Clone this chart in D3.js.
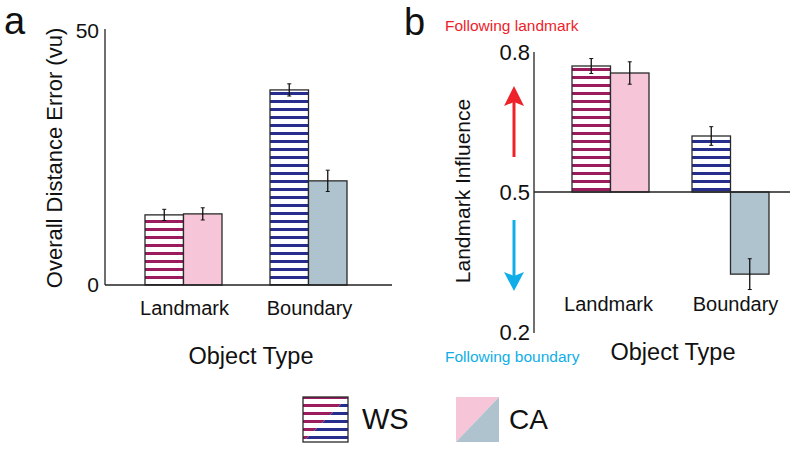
<!DOCTYPE html>
<html><head><meta charset="utf-8">
<script src="https://cdn.jsdelivr.net/npm/d3@7"></script>
<style>body{margin:0;background:#fff}svg{display:block;font-family:"Liberation Sans",Arial,Helvetica,sans-serif}</style>
</head><body><svg id="c" width="800" height="451"></svg>
<script>
// ---- data ----
const categories = ["Landmark", "Boundary"];
const groups = ["WS", "CA"];
// Panel a: overall distance error (vu)
const errorWS = [13.8, 38.4];
const errorWSse = [1.1, 1.2];
const errorCA = [14.0, 20.5];
const errorCAse = [1.2, 2.1];
const ticksA = [0, 50];
// Panel b: landmark influence
const influenceWS = [0.77, 0.62];
const influenceWSse = [0.016, 0.02];
const influenceCA = [0.755, 0.324];
const influenceCAse = [0.024, 0.033];
const ticksB = [0.2, 0.5, 0.8];
const baselineB = 0.5;

const colors = {
  magenta: "#9b1b5f", navy: "#262d8c", pink: "#f6c6d8", gray: "#afc3cf",
  red: "#ee2229", cyan: "#10aee8", stroke: "#2a2a2a"
};
const fillWS = ["url(#stripeM)", "url(#stripeB)"];
const fillCA = [colors.pink, colors.gray];

const svg = d3.select("#c");
const defs = svg.append("defs");
function stripe(id, col) {
  const p = defs.append("pattern").attr("id", id).attr("patternUnits", "userSpaceOnUse")
    .attr("width", 40).attr("height", 8);
  p.append("rect").attr("width", 40).attr("height", 8).attr("fill", "#fff");
  p.append("rect").attr("y", 4).attr("width", 40).attr("height", 3).attr("fill", col);
}
stripe("stripeM", colors.magenta);
stripe("stripeB", colors.navy);

function rows(vals, ses, fills) {
  return categories.map((c, i) => ({ cat: c, v: vals[i], se: ses[i], fill: fills[i] }));
}

// ---------- Panel a ----------
const xa = d3.scaleBand().domain(categories).range([121, 371]);
const sub = d3.scaleBand().domain(groups).range([-38.5, 38.5]);
const ya = d3.scaleLinear().domain([0, 50]).range([285, 31]);
const ga = svg.append("g");

function drawBars(g, x, y, base, data, grp) {
  const bw = sub.bandwidth();
  g.selectAll(null).data(data).enter().append("rect")
    .attr("x", d => x(d.cat) + x.bandwidth() / 2 + sub(grp))
    .attr("y", d => Math.min(y(d.v), y(base)))
    .attr("width", bw)
    .attr("height", d => Math.abs(y(d.v) - y(base)))
    .attr("fill", d => d.fill)
    .attr("stroke", colors.stroke).attr("stroke-width", 1.3);
  const eb = g.selectAll(null).data(data).enter().append("g")
    .attr("transform", d => `translate(${x(d.cat) + x.bandwidth() / 2 + sub(grp) + bw / 2},0)`);
  eb.append("line").attr("y1", d => y(d.v - d.se)).attr("y2", d => y(d.v + d.se))
    .attr("stroke", "#111").attr("stroke-width", 1.3);
  eb.append("line").attr("x1", -2).attr("x2", 2).attr("y1", d => y(d.v - d.se)).attr("y2", d => y(d.v - d.se))
    .attr("stroke", "#111").attr("stroke-width", 1);
  eb.append("line").attr("x1", -2).attr("x2", 2).attr("y1", d => y(d.v + d.se)).attr("y2", d => y(d.v + d.se))
    .attr("stroke", "#111").attr("stroke-width", 1);
}
drawBars(ga, xa, ya, 0, rows(errorWS, errorWSse, fillWS), "WS");
drawBars(ga, xa, ya, 0, rows(errorCA, errorCAse, fillCA), "CA");

const axA = ga.append("g").attr("transform", "translate(105,0)")
  .call(d3.axisLeft(ya).tickValues(ticksA).tickSize(0).tickPadding(6));
axA.select(".domain").attr("stroke", "#222").attr("stroke-width", 1.3).attr("d", `M0,${ya(50) - 2}V${ya(0)}`);
axA.selectAll("text").attr("font-size", 21).attr("fill", "#111").attr("font-family", null);
ga.append("line").attr("x1", 105).attr("x2", 392).attr("y1", ya(0)).attr("y2", ya(0))
  .attr("stroke", "#222").attr("stroke-width", 1.3);
ga.selectAll(null).data(categories).enter().append("text")
  .attr("x", d => xa(d) + xa.bandwidth() / 2 + 1).attr("y", 315)
  .attr("text-anchor", "middle").attr("font-size", 20).attr("fill", "#111").text(d => d);
ga.append("text").attr("x", 251).attr("y", 364).attr("text-anchor", "middle")
  .attr("font-size", 23.5).attr("fill", "#111").text("Object Type");
ga.append("text").attr("transform", "translate(62,158) rotate(-90)").attr("text-anchor", "middle")
  .attr("font-size", 22).attr("fill", "#111").text("Overall Distance Error (vu)");
svg.append("text").attr("x", 4).attr("y", 34).attr("font-size", 38).attr("fill", "#111").text("a");

// ---------- Panel b ----------
const xb = d3.scaleBand().domain(categories).range([550.5, 790.5]);
const yb = d3.scaleLinear().domain([0.2, 0.8]).range([332, 52]);
const gb = svg.append("g");
drawBars(gb, xb, yb, baselineB, rows(influenceWS, influenceWSse, fillWS), "WS");
drawBars(gb, xb, yb, baselineB, rows(influenceCA, influenceCAse, fillCA), "CA");
const axB = gb.append("g").attr("transform", "translate(534,0)")
  .call(d3.axisLeft(yb).tickValues(ticksB).tickFormat(d3.format(".1f")).tickSize(0).tickPadding(4));
axB.select(".domain").attr("stroke", "#222").attr("stroke-width", 1.3).attr("d", `M0,${yb(0.8)}V${yb(0.2) + 1}`);
axB.selectAll("text").attr("font-size", 22).attr("fill", "#111").attr("font-family", null);
gb.append("line").attr("x1", 534).attr("x2", 790).attr("y1", yb(baselineB)).attr("y2", yb(baselineB))
  .attr("stroke", "#222").attr("stroke-width", 1.3);
gb.selectAll(null).data(categories).enter().append("text")
  .attr("x", (d, i) => xb(d) + xb.bandwidth() / 2 + (i ? 5 : -2)).attr("y", 311)
  .attr("text-anchor", "middle").attr("font-size", 20).attr("fill", "#111").text(d => d);
gb.append("text").attr("x", 673).attr("y", 360).attr("text-anchor", "middle")
  .attr("font-size", 23.5).attr("fill", "#111").text("Object Type");
gb.append("text").attr("transform", "translate(470,191) rotate(-90)").attr("text-anchor", "middle")
  .attr("font-size", 21).attr("fill", "#111").text("Landmark Influence");
svg.append("text").attr("x", 404).attr("y", 35).attr("font-size", 38).attr("fill", "#111").text("b");
gb.append("text").attr("x", 445).attr("y", 31).attr("font-size", 15.5).attr("fill", colors.red).text("Following landmark");
gb.append("text").attr("x", 445).attr("y", 362).attr("font-size", 15.5).attr("fill", colors.cyan).text("Following boundary");
// arrows
const ax = 514;
gb.append("line").attr("x1", ax).attr("x2", ax).attr("y1", 157).attr("y2", 100).attr("stroke", colors.red).attr("stroke-width", 3);
gb.append("path").attr("d", `M${ax},86L${ax + 10},106L${ax},102L${ax - 10},106Z`).attr("fill", colors.red);
gb.append("line").attr("x1", ax).attr("x2", ax).attr("y1", 220).attr("y2", 278).attr("stroke", colors.cyan).attr("stroke-width", 3);
gb.append("path").attr("d", `M${ax},291L${ax + 10},272L${ax},276L${ax - 10},272Z`).attr("fill", colors.cyan);

// ---------- Legend ----------
const lg = svg.append("g");
const s = 45, wx = 303, cx = 456, ly = 397;
defs.append("clipPath").attr("id", "tl").append("path").attr("d", `M${wx},${ly}H${wx + s}L${wx},${ly + s}Z`);
defs.append("clipPath").attr("id", "br").append("path").attr("d", `M${wx + s},${ly}V${ly + s}H${wx}Z`);
lg.append("rect").attr("x", wx).attr("y", ly).attr("width", s).attr("height", s).attr("fill", "url(#stripeM)").attr("clip-path", "url(#tl)");
lg.append("rect").attr("x", wx).attr("y", ly).attr("width", s).attr("height", s).attr("fill", "url(#stripeB)").attr("clip-path", "url(#br)");
lg.append("rect").attr("x", wx).attr("y", ly).attr("width", s).attr("height", s).attr("fill", "none").attr("stroke", colors.stroke).attr("stroke-width", 1.3);
lg.append("path").attr("d", `M${cx},${ly}H${cx + 43}L${cx},${ly + s}Z`).attr("fill", colors.pink);
lg.append("path").attr("d", `M${cx + 43},${ly}V${ly + s}H${cx}Z`).attr("fill", colors.gray);
lg.append("text").attr("x", 362).attr("y", 429).attr("font-size", 29).attr("fill", "#111").text("WS");
lg.append("text").attr("x", 509).attr("y", 429).attr("font-size", 28).attr("fill", "#111").text("CA");
</script></body></html>
